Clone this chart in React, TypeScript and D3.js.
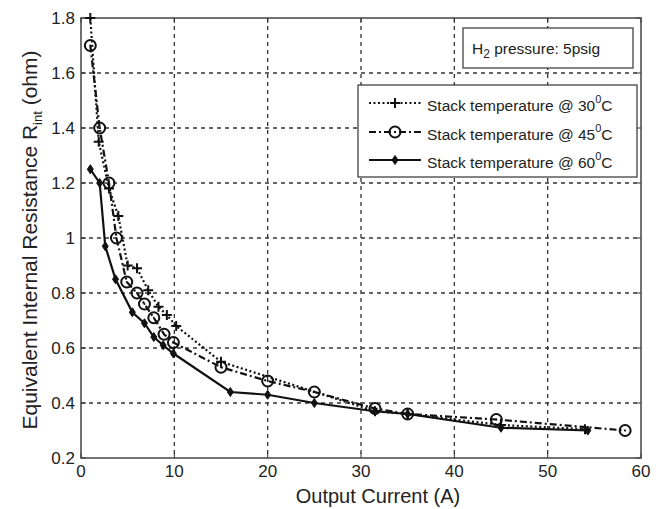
import React from "react";
import * as d3 from "d3";

const xTicks = [0, 10, 20, 30, 40, 50, 60];
const yTicks = [0.2, 0.4, 0.6, 0.8, 1.0, 1.2, 1.4, 1.6, 1.8];
const yTickLabels = ["0.2", "0.4", "0.6", "0.8", "1", "1.2", "1.4", "1.6", "1.8"];

const current30 = [1.0, 1.9, 3.0, 4.0, 5.0, 6.0, 7.2, 8.3, 9.2, 10.2, 15, 31.5, 35, 45, 54];
const resist30 = [1.8, 1.35, 1.18, 1.08, 0.9, 0.89, 0.81, 0.75, 0.72, 0.68, 0.55, 0.37, 0.36, 0.32, 0.305];

const current45 = [1.0, 2.0, 3.0, 3.8, 4.9, 6.0, 6.8, 7.8, 8.9, 9.9, 15, 20, 25, 31.5, 35, 44.5, 58.3];
const resist45 = [1.7, 1.4, 1.2, 1.0, 0.84, 0.8, 0.76, 0.71, 0.65, 0.62, 0.53, 0.48, 0.44, 0.38, 0.36, 0.34, 0.3];

const current60 = [1.0, 2.0, 2.6, 3.7, 5.5, 6.8, 7.8, 8.8, 9.9, 16, 20, 25, 31.5, 35, 45, 54.3];
const resist60 = [1.25, 1.2, 0.97, 0.85, 0.73, 0.69, 0.64, 0.61, 0.58, 0.44, 0.43, 0.4, 0.37, 0.36, 0.31, 0.3];

const legendLabels = ["Stack temperature @ 30", "Stack temperature @ 45", "Stack temperature @ 60"];

const W = 664, H = 509;
const L = 81, R = 641, T = 18, B = 458;
const FONT = "'Liberation Sans', Arial, sans-serif";

export default function App() {
  const x = d3.scaleLinear().domain([0, 60]).range([L, R]);
  const y = d3.scaleLinear().domain([0.2, 1.8]).range([B, T]);
  const line = d3.line<[number, number]>().x(d => x(d[0])).y(d => y(d[1]));

  const s30 = current30.map((c, i) => [c, resist30[i]] as [number, number]);
  const s45 = current45.map((c, i) => [c, resist45[i]] as [number, number]);
  const s60 = current60.map((c, i) => [c, resist60[i]] as [number, number]);

  const plus = (cx: number, cy: number, k: string) => (
    <path key={k} d={`M${cx - 5},${cy}H${cx + 5}M${cx},${cy - 5}V${cy + 5}`} stroke="#111" strokeWidth={2} />
  );
  const circ = (cx: number, cy: number, k: string) => (
    <g key={k}>
      <circle cx={cx} cy={cy} r={5.5} fill="none" stroke="#111" strokeWidth={2} />
      <circle cx={cx} cy={cy} r={1} fill="#111" />
    </g>
  );
  const diam = (cx: number, cy: number, k: string) => (
    <path key={k} d={`M${cx},${cy - 4.5}L${cx + 3},${cy}L${cx},${cy + 4.5}L${cx - 3},${cy}Z`} fill="#111" stroke="#111" strokeWidth={1} />
  );

  const legRows = [
    { dash: "2,2.5", marker: plus, y: 103 },
    { dash: "7,3,2,3", marker: circ, y: 132 },
    { dash: "none", marker: diam, y: 160 },
  ];

  return (
    <svg width={W} height={H} style={{ position: "absolute", left: 0, top: 0, background: "#fff" }} fontFamily={FONT}>
      <rect x={0} y={0} width={W} height={H} fill="#fff" />
      {/* grid */}
      {xTicks.slice(1, -1).map(t => (
        <line key={"gx" + t} x1={x(t)} x2={x(t)} y1={T} y2={B} stroke="#333" strokeWidth={1.3} strokeDasharray="4,4" />
      ))}
      {yTicks.slice(1, -1).map(t => (
        <line key={"gy" + t} x1={L} x2={R} y1={y(t)} y2={y(t)} stroke="#333" strokeWidth={1.3} strokeDasharray="4,4" />
      ))}
      {/* tick marks */}
      {xTicks.map(t => (
        <g key={"tx" + t}>
          <line x1={x(t)} x2={x(t)} y1={B} y2={B - 5} stroke="#333" />
          <line x1={x(t)} x2={x(t)} y1={T} y2={T + 5} stroke="#333" />
        </g>
      ))}
      {yTicks.map(t => (
        <g key={"ty" + t}>
          <line x1={L} x2={L + 5} y1={y(t)} y2={y(t)} stroke="#333" />
          <line x1={R} x2={R - 5} y1={y(t)} y2={y(t)} stroke="#333" />
        </g>
      ))}
      <rect x={L} y={T} width={R - L} height={B - T} fill="none" stroke="#444" strokeWidth={1.5} />

      {/* series lines */}
      <path d={line(s30) || ""} fill="none" stroke="#111" strokeWidth={2.2} strokeDasharray="2,2.5" />
      <path d={line(s45) || ""} fill="none" stroke="#111" strokeWidth={2.2} strokeDasharray="7,3,2,3" />
      <path d={line(s60) || ""} fill="none" stroke="#111" strokeWidth={2.2} />
      {s30.map((d, i) => plus(x(d[0]), y(d[1]), "p" + i))}
      {s45.map((d, i) => circ(x(d[0]), y(d[1]), "c" + i))}
      {s60.map((d, i) => diam(x(d[0]), y(d[1]), "d" + i))}

      {/* tick labels */}
      {xTicks.map(t => (
        <text key={"lx" + t} x={x(t)} y={477} textAnchor="middle" fontSize={17} fill="#222">{t}</text>
      ))}
      {yTicks.map((t, i) => (
        <text key={"ly" + t} x={75} y={y(t) + 6} textAnchor="end" fontSize={17} fill="#222">{yTickLabels[i]}</text>
      ))}

      {/* axis labels */}
      <text x={378} y={503} textAnchor="middle" fontSize={20} fill="#222">Output Current (A)</text>
      <text transform={`translate(37,${(T + B) / 2 + 2}) rotate(-90)`} textAnchor="middle" fontSize={21} fill="#222">
        Equivalent Internal Resistance R<tspan fontSize={13} dy={5}>int</tspan><tspan dy={-5}> (ohm)</tspan>
      </text>

      {/* H2 box */}
      <rect x={463} y={28} width={170} height={40} fill="#fff" stroke="#333" strokeWidth={1.2} />
      <text x={472} y={54} fontSize={15.5} fill="#222">
        H<tspan fontSize={12} dy={4}>2</tspan><tspan dy={-4}> pressure: 5psig</tspan>
      </text>

      {/* legend */}
      <rect x={358} y={85} width={279} height={92} fill="#fff" stroke="#333" strokeWidth={1.2} />
      {legRows.map((r, i) => (
        <g key={"leg" + i}>
          <line x1={369} x2={421} y1={r.y} y2={r.y} stroke="#111" strokeWidth={2.2} strokeDasharray={r.dash} />
          {r.marker(395, r.y, "lm" + i)}
          <text x={427} y={r.y + 8} fontSize={15.5} fill="#222">
            {legendLabels[i]}<tspan fontSize={11} dy={-8}>0</tspan><tspan dy={8}>C</tspan>
          </text>
        </g>
      ))}
    </svg>
  );
}
